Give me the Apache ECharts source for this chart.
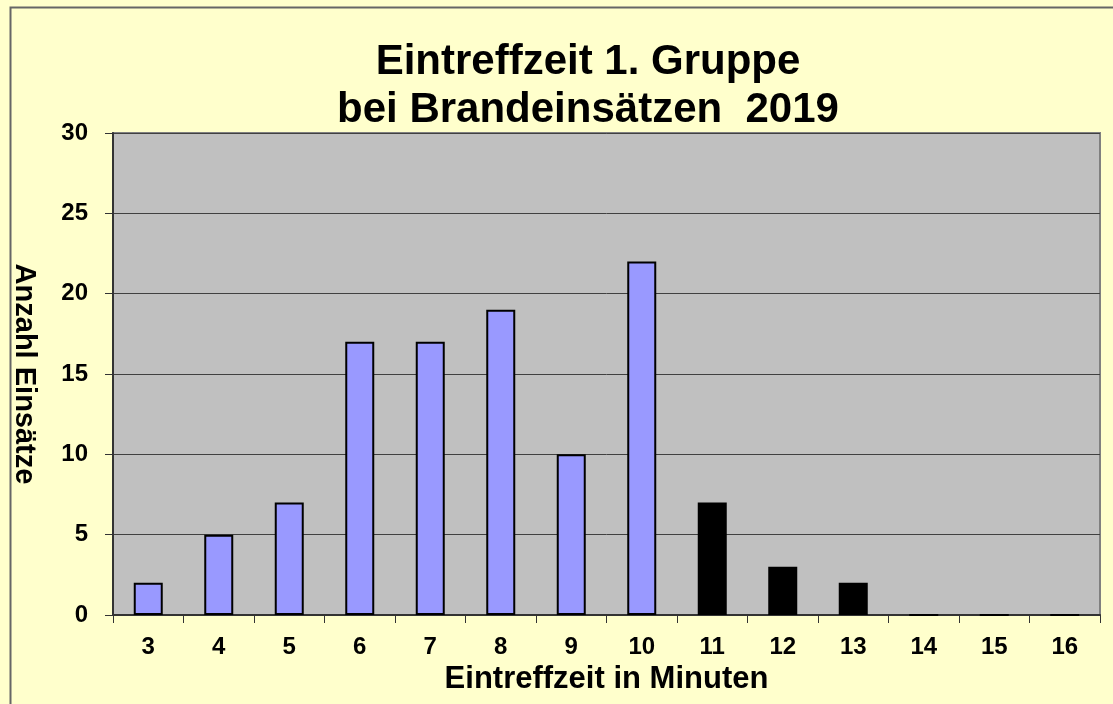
<!DOCTYPE html>
<html>
<head>
<meta charset="utf-8">
<script src="https://cdn.jsdelivr.net/npm/echarts@6/dist/echarts.min.js"></script>
<style>
html,body{margin:0;padding:0;background:#FFFFCC;}
#c{width:1113px;height:704px;}
</style>
</head>
<body>
<div id="c"></div>
<script>
const categories = ['3','4','5','6','7','8','9','10','11','12','13','14','15','16'];
const values = [2,5,7,17,17,19,10,22,7,3,2,0,0,0];
const barColors = ['#9999FF','#9999FF','#9999FF','#9999FF','#9999FF','#9999FF','#9999FF','#9999FF','#000000','#000000','#000000','#000000','#000000','#000000'];
const titleLines = ['Eintreffzeit 1. Gruppe','bei Brandeinsätzen  2019'];
const xName = 'Eintreffzeit in Minuten';
const yName = 'Anzahl Einsätze';

const chart = echarts.init(document.getElementById('c'));
const font = 'Liberation Sans';
chart.setOption({
  backgroundColor: '#FFFFCC',
  animation: false,
  graphic: [{
    type: 'rect', left: 8, top: 5, shape: {width: 1120, height: 720},
    style: {fill: 'none', stroke: '#666666', lineWidth: 2}, silent: true
  }],
  title: {
    text: titleLines.join('\n'),
    left: 583, textAlign: 'center', top: 33,
    textStyle: {fontFamily: font, fontWeight: 'bold', fontSize: 42, lineHeight: 48, color: '#000'}
  },
  grid: {
    left: 113, right: 13, top: 133, bottom: 89,
    show: true, backgroundColor: '#C0C0C0', borderColor: '#808080', borderWidth: 2
  },
  xAxis: {
    type: 'category', data: categories,
    name: xName, nameLocation: 'middle', nameGap: 41,
    nameTextStyle: {fontFamily: font, fontWeight: 'bold', fontSize: 31, color: '#000'},
    axisLine: {lineStyle: {color: '#333', width: 2}},
    axisTick: {show: true, length: 8, lineStyle: {color: '#333', width: 1}},
    axisLabel: {fontFamily: font, fontWeight: 'bold', fontSize: 24, color: '#000', margin: 20},
    splitLine: {show: false}
  },
  yAxis: {
    type: 'value', min: 0, max: 30, interval: 5,
    name: yName, nameLocation: 'middle', nameGap: 75, nameRotate: -90,
    nameTextStyle: {fontFamily: font, fontWeight: 'bold', fontSize: 29, color: '#000'},
    axisLine: {show: true, lineStyle: {color: '#333', width: 2}},
    axisTick: {show: true, length: 8, lineStyle: {color: '#333', width: 1}},
    axisLabel: {fontFamily: font, fontWeight: 'bold', fontSize: 24, color: '#000', margin: 25},
    splitLine: {show: true, lineStyle: {color: '#404040', width: 1}}
  },
  series: [{
    type: 'bar', barWidth: 29,
    data: values.map((v, i) => ({value: v, itemStyle: {color: barColors[i]}})),
    itemStyle: {borderColor: '#000', borderWidth: 2}
  }]
});
</script>
</body>
</html>
